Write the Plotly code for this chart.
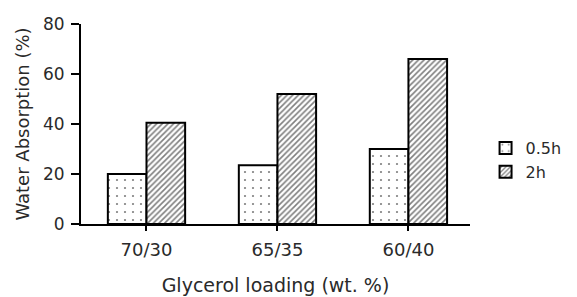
import plotly.graph_objects as go

categories = ["70/30", "65/35", "60/40"]
series_names = ["0.5h", "2h"]
values_05h = [20, 23.5, 30]
values_2h = [40.5, 52, 66]
y_ticks = [0, 20, 40, 60, 80]

font_family = "'DejaVu Sans', sans-serif"
text_color = "#2a2a2a"

fig = go.Figure()
fig.add_trace(go.Bar(
    x=categories, y=values_05h, name=series_names[0],
    marker=dict(color="white", line=dict(color="black", width=2),
                pattern=dict(shape=".", fgcolor="black", bgcolor="white", size=8, solidity=0.06)),
))
fig.add_trace(go.Bar(
    x=categories, y=values_2h, name=series_names[1],
    marker=dict(color="white", line=dict(color="black", width=2),
                pattern=dict(shape="/", fgcolor="black", bgcolor="white", size=4, solidity=0.4)),
))

fig.update_layout(
    width=569, height=289,
    margin=dict(l=73, r=107, t=16, b=73, autoexpand=False),
    paper_bgcolor="white", plot_bgcolor="white",
    barmode="group", bargap=0.41, bargroupgap=0,
    font=dict(family=font_family, color=text_color, size=16),
    legend=dict(x=1.04, y=0.32, xanchor="left", yanchor="middle",
                font=dict(size=16, color=text_color), tracegroupgap=9,
                itemwidth=30),
    showlegend=True,
)
fig.update_xaxes(
    showline=True, linecolor="black", linewidth=2,
    ticks="outside", ticklen=5, tickwidth=2, tickcolor="black",
    range=[-0.5, 2.47], showgrid=False,
    ticklabelstandoff=3,
    tickfont=dict(size=18, color=text_color),
    title=dict(text="Glycerol loading (wt. %)", font=dict(size=19, color=text_color), standoff=20),
)
fig.update_yaxes(
    showline=True, linecolor="black", linewidth=2,
    ticks="outside", ticklen=8, tickwidth=2, tickcolor="black",
    range=[0, 80], tickvals=y_ticks, showgrid=False, zeroline=False,
    ticklabelstandoff=3,
    tickfont=dict(size=17, color=text_color),
    title=dict(text="Water Absorption (%)", font=dict(size=18, color=text_color), standoff=9),
)

fig.write_html("out.html")
